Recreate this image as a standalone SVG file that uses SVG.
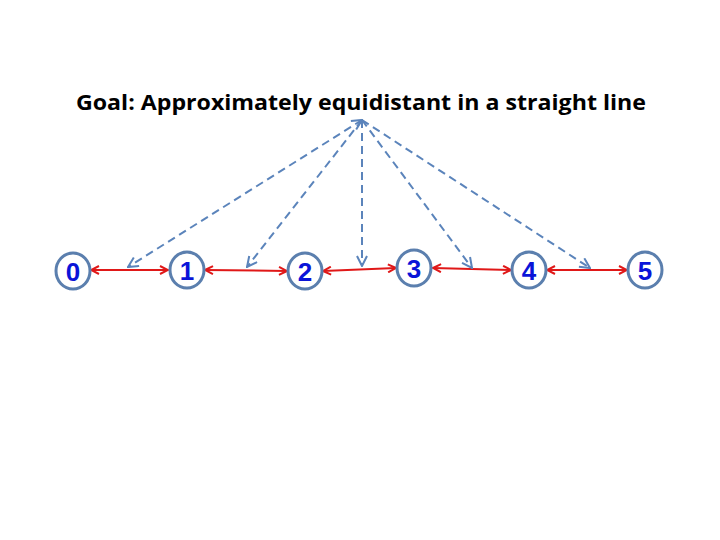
<svg xmlns="http://www.w3.org/2000/svg" width="720" height="540" viewBox="0 0 720 540">
<defs>
<style>
.node ellipse{fill:#fff;stroke:#5b7fae;stroke-width:3}
.node text{font-family:"Liberation Sans",Arial,sans-serif;font-weight:bold;font-size:26px;fill:#0a14d8;text-anchor:middle}
.red{stroke:#e01818;stroke-width:2;fill:none;marker-start:url(#rh);marker-end:url(#rh)}
.dash{stroke:#5b84bb;stroke-width:2;fill:none;stroke-dasharray:8 5;marker-end:url(#bh)}
.title{font-family:"Open Sans","Liberation Sans",Arial,sans-serif;font-weight:bold;font-size:21px;fill:#000;text-anchor:middle}
</style>
<marker id="rh" viewBox="0 0 10 10" refX="9" refY="5" markerWidth="10" markerHeight="10" markerUnits="userSpaceOnUse" orient="auto-start-reverse">
<path d="M1,1 L9,5 L1,9" fill="none" stroke="#e01818" stroke-width="2"/>
</marker>
<marker id="bh" viewBox="0 0 12 12" refX="11" refY="6" markerWidth="12" markerHeight="12" markerUnits="userSpaceOnUse" orient="auto-start-reverse">
<path d="M1,1 L11,6 L1,11" fill="none" stroke="#5b84bb" stroke-width="2"/>
</marker>
</defs>
<rect width="720" height="540" fill="#fff"/>
<text class="title" x="361" y="110" textLength="570" lengthAdjust="spacingAndGlyphs">Goal: Approximately equidistant in a straight line</text>
<g id="connectors">
<line class="red" x1="91" y1="270" x2="168" y2="270"/>
<line class="red" x1="205" y1="270" x2="287" y2="271"/>
<line class="red" x1="323" y1="271" x2="396" y2="268"/>
<line class="red" x1="433" y1="268" x2="511" y2="270"/>
<line class="red" x1="547" y1="270" x2="627" y2="270"/>
<line class="dash" x1="362" y1="120" x2="128" y2="267" style="marker-start:url(#bh)"/>
<line class="dash" x1="362" y1="120" x2="247" y2="267"/>
<line class="dash" x1="362" y1="120" x2="362" y2="266"/>
<line class="dash" x1="362" y1="120" x2="472" y2="268"/>
<line class="dash" x1="362" y1="120" x2="590" y2="268"/>
</g>
<g id="node0" class="node"><ellipse cx="73" cy="271" rx="17" ry="18"/><text x="73" y="281">0</text></g>
<g id="node1" class="node"><ellipse cx="187" cy="270" rx="17" ry="18"/><text x="187" y="280">1</text></g>
<g id="node2" class="node"><ellipse cx="305" cy="271" rx="17" ry="18"/><text x="305" y="281">2</text></g>
<g id="node3" class="node"><ellipse cx="414" cy="268" rx="17" ry="18"/><text x="414" y="278">3</text></g>
<g id="node4" class="node"><ellipse cx="529" cy="270" rx="17" ry="18"/><text x="529" y="280">4</text></g>
<g id="node5" class="node"><ellipse cx="645" cy="270" rx="17" ry="18"/><text x="645" y="280">5</text></g>
</svg>
